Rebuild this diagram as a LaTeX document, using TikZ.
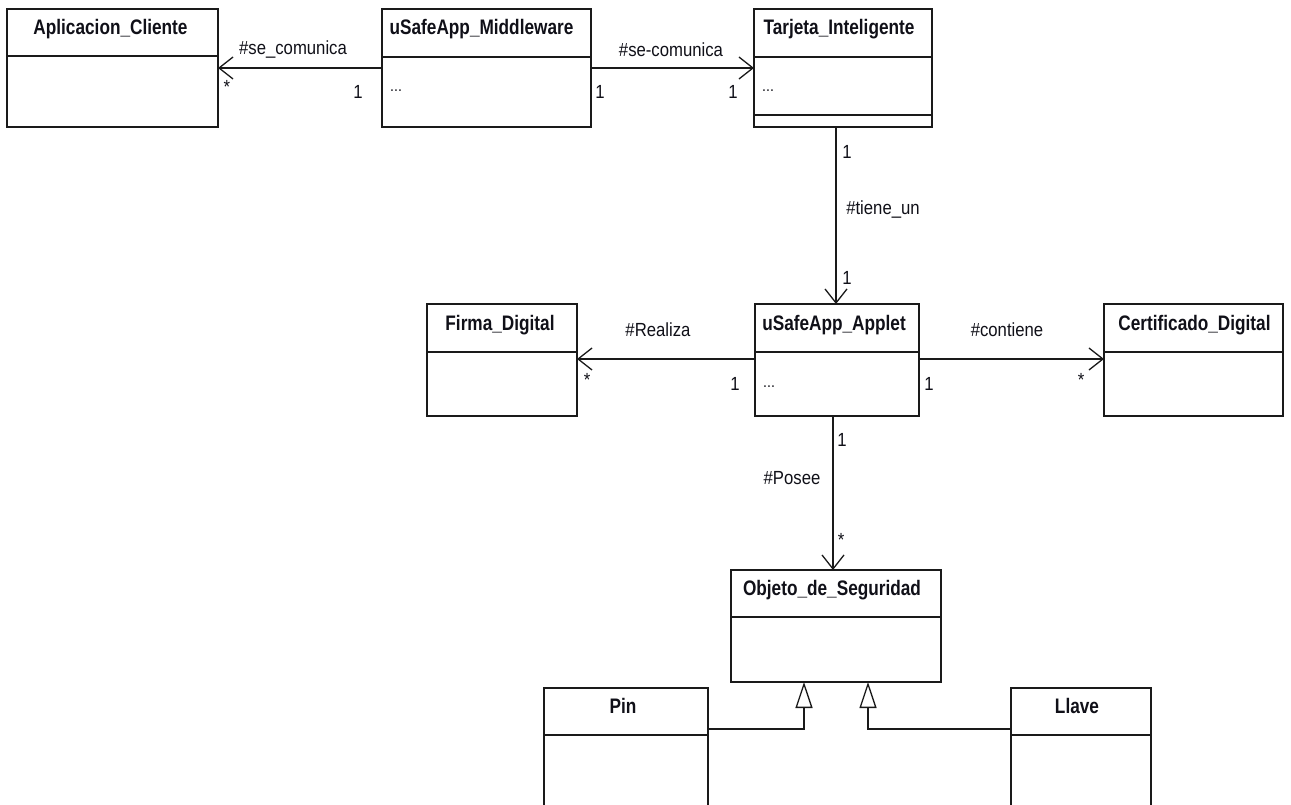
\documentclass[tikz,border=0pt]{standalone}
\usepackage{fontspec}
\newfontfamily\umlfont[FakeStretch=0.82]{Liberation Sans}
\newfontfamily\umlreg[FakeStretch=0.88]{Liberation Sans}
\usetikzlibrary{arrows.meta,calc}
\definecolor{ink}{HTML}{1A1A1A}
\definecolor{txt}{HTML}{101018}
\tikzset{
  cls/.style={draw=ink, line width=1.4pt, inner sep=0pt, outer sep=0pt, anchor=north west, fill=white},
  hdr/.style={anchor=base, inner sep=0pt, text=txt, font=\umlfont\bfseries\fontsize{21}{23}\selectfont},
  lbl/.style={inner sep=0pt, text=txt, font=\umlreg\fontsize{19}{21}\selectfont},
  dots/.style={inner sep=0pt, anchor=base west, text=txt, font=\umlreg\fontsize{16}{18}\selectfont},
  sep/.style={draw=ink, line width=1.4pt},
  assoc/.style={draw=ink, line width=1.4pt, -{Straight Barb[length=14pt,width=22pt,line width=1.3pt]}},
  gen/.style={draw=ink, line width=1.4pt, -{Triangle[open,length=26pt,width=17pt,line width=1.3pt,fill=white]}}
}
\begin{document}
\begin{tikzpicture}[x=1pt,y=-1pt]
\useasboundingbox (0,0) rectangle (1291,805);
\clip (0,0) rectangle (1291,805);
\fill[white] (0,0) rectangle (1291,805);

% classes
\node[cls, minimum width=211pt, minimum height=118pt] (ac) at (7,9) {};
\node[cls, minimum width=209pt, minimum height=118pt] (mw) at (382,9) {};
\node[cls, minimum width=178pt, minimum height=118pt] (tj) at (754,9) {};
\node[cls, minimum width=150pt, minimum height=112pt] (fd) at (427,304) {};
\node[cls, minimum width=164pt, minimum height=112pt] (ap) at (755,304) {};
\node[cls, minimum width=179pt, minimum height=112pt] (cd) at (1104,304) {};
\node[cls, minimum width=210pt, minimum height=112pt] (os) at (731,570) {};
\node[cls, minimum width=164pt, minimum height=140pt] (pin) at (544,688) {};
\node[cls, minimum width=140pt, minimum height=140pt] (ll) at (1011,688) {};

% compartment separators
\draw[sep] ($(ac.north west)+(0,47)$) -- ($(ac.north east)+(0,47)$);
\draw[sep] ($(mw.north west)+(0,48)$) -- ($(mw.north east)+(0,48)$);
\draw[sep] ($(tj.north west)+(0,48)$) -- ($(tj.north east)+(0,48)$);
\draw[sep] ($(tj.north west)+(0,106)$) -- ($(tj.north east)+(0,106)$);
\draw[sep] ($(fd.north west)+(0,48)$) -- ($(fd.north east)+(0,48)$);
\draw[sep] ($(ap.north west)+(0,48)$) -- ($(ap.north east)+(0,48)$);
\draw[sep] ($(cd.north west)+(0,48)$) -- ($(cd.north east)+(0,48)$);
\draw[sep] ($(os.north west)+(0,47)$) -- ($(os.north east)+(0,47)$);
\draw[sep] ($(pin.north west)+(0,47)$) -- ($(pin.north east)+(0,47)$);
\draw[sep] ($(ll.north west)+(0,47)$) -- ($(ll.north east)+(0,47)$);

% class names
\node[hdr] (ac-t) at ($(ac.north)+(-2,26)$) {Aplicacion\_Cliente};
\node[hdr] (mw-t) at ($(mw.north)+(-5,26)$) {uSafeApp\_Middleware};
\node[hdr] (tj-t) at ($(tj.north)+(-4,26)$) {Tarjeta\_Inteligente};
\node[hdr] (fd-t) at ($(fd.north)+(-2,26)$) {Firma\_Digital};
\node[hdr] (ap-t) at ($(ap.north)+(-3,26)$) {uSafeApp\_Applet};
\node[hdr] (cd-t) at ($(cd.north)+(1,26)$) {Certificado\_Digital};
\node[hdr] (os-t) at ($(os.north)+(-4,25)$) {Objeto\_de\_Seguridad};
\node[hdr] (pin-t) at ($(pin.north)+(-3,25)$) {Pin};
\node[hdr] (ll-t) at ($(ll.north)+(-4,25)$) {Llave};

% attribute placeholders
\node[dots] (mw-d) at ($(mw.north west)+(8,83)$) {...};
\node[dots] (tj-d) at ($(tj.north west)+(8,83)$) {...};
\node[dots] (ap-d) at ($(ap.north west)+(8,83)$) {...};

% associations
\draw[assoc] ($(mw.north west)+(0,59)$) -- ($(ac.north east)+(0,59)$);
\draw[assoc] ($(mw.north east)+(0,59)$) -- ($(tj.north west)+(0,59)$);
\draw[assoc] ($(tj.south west)+(82,0)$) -- ($(ap.north west)+(81,0)$);
\draw[assoc] ($(ap.north west)+(0,55)$) -- ($(fd.north east)+(0,55)$);
\draw[assoc] ($(ap.north east)+(0,55)$) -- ($(cd.north west)+(0,55)$);
\draw[assoc] ($(ap.south west)+(78,0)$) -- ($(os.north west)+(102,0)$);

% generalizations
\draw[gen] ($(pin.north east)+(0,41)$) -| ($(os.south west)+(73,0)$);
\draw[gen] ($(ll.north west)+(0,41)$) -| ($(os.south west)+(137,0)$);

% association labels
\node[lbl] (l1) at (293,50) {\#se\_comunica};
\node[lbl] (l1a) at (227,87) {*};
\node[lbl] (l1b) at (358,92) {1};
\node[lbl] (l2) at (671,50) {\#se-comunica};
\node[lbl] (l2a) at (600,92) {1};
\node[lbl] (l2b) at (733,92) {1};
\node[lbl] (l3a) at (847,152) {1};
\node[lbl] (l3) at (883,210) {\#tiene\_un};
\node[lbl] (l3b) at (847,278) {1};
\node[lbl] (l4) at (658,330) {\#Realiza};
\node[lbl] (l4a) at (735,384) {1};
\node[lbl] (l4b) at (587,380) {*};
\node[lbl] (l5) at (1007,330) {\#contiene};
\node[lbl] (l5a) at (929,384) {1};
\node[lbl] (l5b) at (1081,380) {*};
\node[lbl] (l6a) at (842,440) {1};
\node[lbl] (l6) at (792,478) {\#Posee};
\node[lbl] (l6b) at (841,540) {*};
\end{tikzpicture}
\end{document}
